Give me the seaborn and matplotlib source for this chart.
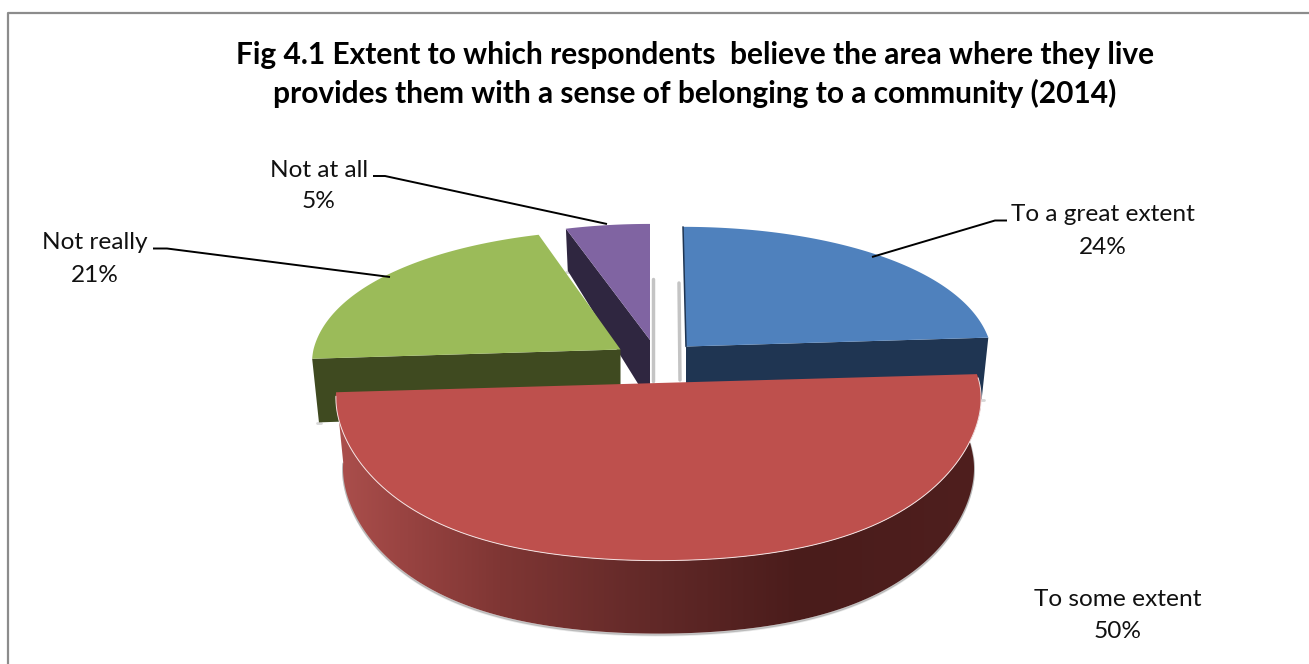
import numpy as np
import matplotlib
matplotlib.use("Agg")
import matplotlib.pyplot as plt
from matplotlib.patches import Polygon
import seaborn as sns

# Survey shares, clockwise from twelve o'clock
categories = ["To a great extent", "To some extent", "Not really", "Not at all"]
shares = [24, 50, 21, 5]
share_labels = ["24%", "50%", "21%", "5%"]
title_lines = [
    "Fig 4.1 Extent to which respondents  believe the area where they live",
    "provides them with a sense of belonging to a community (2014)",
]

# Exploded pie geometry (screen pixels): apex x, apex y, radius x, y scale, lean
slice_geometry = {
    "To a great extent": (686.0, 346.5, 305.0, 1.00, -3.0),
    "To some extent": (658.5, 383.0, 321.0, 1.00, 0.0),
    "Not really": (620.5, 349.5, 307.0, 1.00, 5.0),
    "Not at all": (650.0, 340.0, 298.0, 0.97, 0.0),
}
face_colors = dict(zip(categories, sns.color_palette(["#4F81BD", "#BE504D", "#9BBB59", "#8064A2"])))
wall_colors = dict(zip(categories, ["#1F3552", "#4A1C1B", "#3F4A20", "#2F2640"]))
draw_order = ["Not at all", "Not really", "To a great extent", "To some extent"]
# Which cut edge of each slice shows its flat wall
wall_edge = {"To a great extent": 1, "Not really": 0, "Not at all": 0}

BASE_B, PERSP_Y, PERSP_X, FRONT_BULGE = 143.0, 0.195, 0.10, 10.0
gradient_x = [338, 400, 500, 650, 800, 985]
gradient_rgb = np.array([matplotlib.colors.to_rgb(c) for c in
                         ["#AB4F4C", "#9A4442", "#7F3634", "#622928", "#4A1C1B", "#4F1F1E"]])

sns.set_theme(style="white")
plt.rcParams["font.family"] = ["Lato", "DejaVu Sans"]

fig = plt.figure(figsize=(13.09, 6.64), dpi=100, facecolor="white")
ax = fig.add_axes([0, 0, 1, 1])
ax.axis("off")


def top_rim(name, theta):
    cx, cy, rx, ys, lean = slice_geometry[name]
    u, v = np.sin(theta), np.cos(theta)
    x = cx + rx * u / (1 + PERSP_X * v) + lean * np.clip(v, 0, 1)
    y = cy - ys * BASE_B * v / (1 + PERSP_Y * v)
    # The near half of the disc reads slightly fuller than an ellipse
    y = y + FRONT_BULGE * np.sin(2 * theta) ** 2 * (v < 0)
    return x, y


def lower_rim(name, theta):
    cx = slice_geometry[name][0]
    x, y = top_rim(name, theta)
    mid_depth = 70 if name == "To some extent" else 63
    depth = np.interp(np.cos(theta), [-1, 0, 1], [73, mid_depth, 41])
    return cx + (x - cx) * 0.978, y + depth


# Slice spans follow directly from the shares
edges = np.radians(np.concatenate([[0], np.cumsum(shares)]) * 3.6)
spans = dict(zip(categories, zip(edges[:-1], edges[1:])))

for rank, name in enumerate(draw_order):
    start, stop = spans[name]
    cx, cy = slice_geometry[name][:2]
    theta = np.linspace(start, stop, 240)
    tx, ty = top_rim(name, theta)
    bx, by = lower_rim(name, theta)
    apex_low = cy + 63
    base_z = 3 + rank

    if name == "To some extent":
        # Curved outer wall, shaded left to right through a clipped gradient
        xs = np.arange(330, 992)
        strip = np.stack([np.interp(xs, gradient_x, gradient_rgb[:, c]) for c in range(3)], axis=-1)[None, :, :]
        wall = Polygon(np.c_[np.r_[tx, bx[::-1]], np.r_[ty, by[::-1]]], closed=True, transform=ax.transData,
                       fc="none", ec="none")
        ax.add_patch(wall)
        im = ax.imshow(strip, extent=(330, 992, 660, 300), aspect="auto", zorder=base_z, interpolation="bilinear")
        im.set_clip_path(wall)
        ax.plot(bx, by + 1.0, color="#8A8A8A", lw=1.4, alpha=0.5, zorder=base_z - 0.1)
        ax.plot(bx, by + 2.0, color="#BBBBBB", lw=1.2, alpha=0.35, zorder=base_z - 0.2)
    else:
        # Flat cut wall exposed by the explosion
        ang = spans[name][wall_edge[name]]
        rx_, ry_ = top_rim(name, np.array([ang]))
        lx_, ly_ = lower_rim(name, np.array([ang]))
        ax.plot([lx_[0] - 2, lx_[0] + 2], [ly_[0] + 1, ly_[0] + 1], color="#BBBBBB", lw=2, alpha=0.6,
                zorder=base_z - 0.1)
        ax.fill([cx, rx_[0], lx_[0], cx], [cy, ry_[0], ly_[0], apex_low],
                color=wall_colors[name], lw=0, zorder=base_z)

    ax.fill(np.r_[cx, tx], np.r_[cy, ty], color=face_colors[name], lw=0, zorder=base_z + 0.5)
    if name == "To some extent":
        ax.plot(tx[2:-2], ty[2:-2], color="#F4E2E2", lw=0.7, zorder=base_z + 0.6)

# Thin dark edge down the blue slice and the soft shadows in the centre gap
bx0, by0 = top_rim("To a great extent", np.array([0.0]))
ax.plot([bx0[0], 686], [by0[0], 346.5], color="#1F3552", lw=1.1, zorder=5.6)
ax.plot([652.5, 652.5], [279, 381], color="#C4C4C4", lw=2.5, zorder=2)
ax.plot([679, 680], [283, 380], color="#C4C4C4", lw=2.5, zorder=2)

# Leader lines
leader_style = dict(color="black", lw=1.4, zorder=8, solid_capstyle="butt")
ax.plot([373, 385, 607], [176, 176, 224], **leader_style)
ax.plot([153, 167, 390], [248.5, 248.5, 277], **leader_style)
ax.plot([1007, 995, 872], [220.5, 220.5, 257], **leader_style)

# Data labels
label_pos = {
    "Not at all": (319, 170.5, 201.5),
    "Not really": (95, 242.5, 275.5),
    "To a great extent": (1103, 214.5, 247.5),
    "To some extent": (1118, 599.5, 631.5),
}
for name, label in zip(categories, share_labels):
    x, y1, y2 = label_pos[name]
    ax.text(x, y1, name, ha="center", va="center", fontsize=17.6, color="#111111")
    ax.text(x, y2, label, ha="center", va="center", fontsize=17.6, color="#111111")

# Title
for line, y in zip(title_lines, [55, 93]):
    ax.text(695, y, line, ha="center", va="center", fontsize=21.5, fontweight="bold", color="black")

# Chart frame: only the top and left edges fall inside the canvas
ax.plot([8, 8, 1309], [664, 13, 13], color="#8C8C8C", lw=1.6, zorder=1)

ax.set_xlim(0, 1309)
ax.set_ylim(664, 0)

fig.savefig("out.png", dpi=100, facecolor="white")
